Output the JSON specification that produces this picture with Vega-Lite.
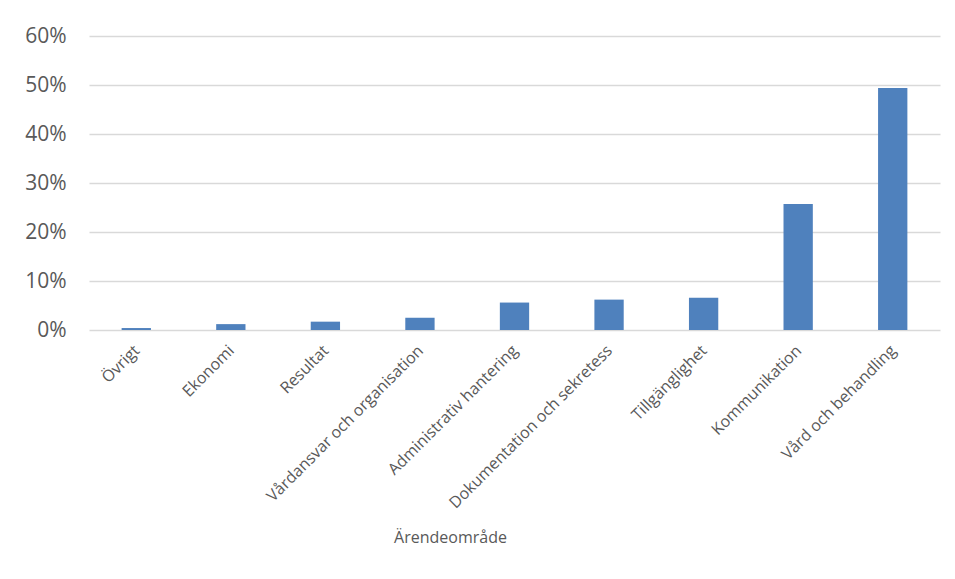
{
  "$schema": "https://vega.github.io/schema/vega-lite/v6.json",
  "width": 851,
  "height": 294,
  "autosize": "none",
  "padding": {"left": 89, "top": 36, "right": 15, "bottom": 249},
  "background": "white",
  "config": {
    "view": {"stroke": null},
    "font": "Open Sans"
  },
  "data": {
    "values": [
      {"omrade": "Övrigt", "andel": 0.004},
      {"omrade": "Ekonomi", "andel": 0.012},
      {"omrade": "Resultat", "andel": 0.017},
      {"omrade": "Vårdansvar och organisation", "andel": 0.025},
      {"omrade": "Administrativ hantering", "andel": 0.056},
      {"omrade": "Dokumentation och sekretess", "andel": 0.062},
      {"omrade": "Tillgänglighet", "andel": 0.066},
      {"omrade": "Kommunikation", "andel": 0.257},
      {"omrade": "Vård och behandling", "andel": 0.494}
    ]
  },
  "mark": {"type": "bar", "color": "#4f81bd"},
  "encoding": {
    "x": {
      "field": "omrade",
      "type": "nominal",
      "sort": null,
      "scale": {"paddingInner": 0.69, "paddingOuter": 0.345},
      "axis": {
        "title": "Ärendeområde",
        "titleFont": "Open Sans",
        "titleFontSize": 16,
        "titleFontWeight": "normal",
        "titleColor": "#595959",
        "titleX": 361,
        "titleY": 207,
        "titleAlign": "center",
        "titleBaseline": "middle",
        "labelAngle": -45,
        "labelFontSize": 16,
        "labelColor": "#595959",
        "labelLimit": 0,
        "labelPadding": 12,
        "labelOffset": -5,
        "domain": false,
        "ticks": false
      }
    },
    "y": {
      "field": "andel",
      "type": "quantitative",
      "scale": {"domain": [0, 0.6], "nice": false},
      "axis": {
        "title": null,
        "values": [0, 0.1, 0.2, 0.3, 0.4, 0.5, 0.6],
        "format": ".0%",
        "labelFontSize": 21,
        "labelColor": "#595959",
        "labelPadding": 23,
        "domain": false,
        "ticks": false,
        "gridColor": "#d9d9d9",
        "gridWidth": 1.5
      }
    }
  }
}
